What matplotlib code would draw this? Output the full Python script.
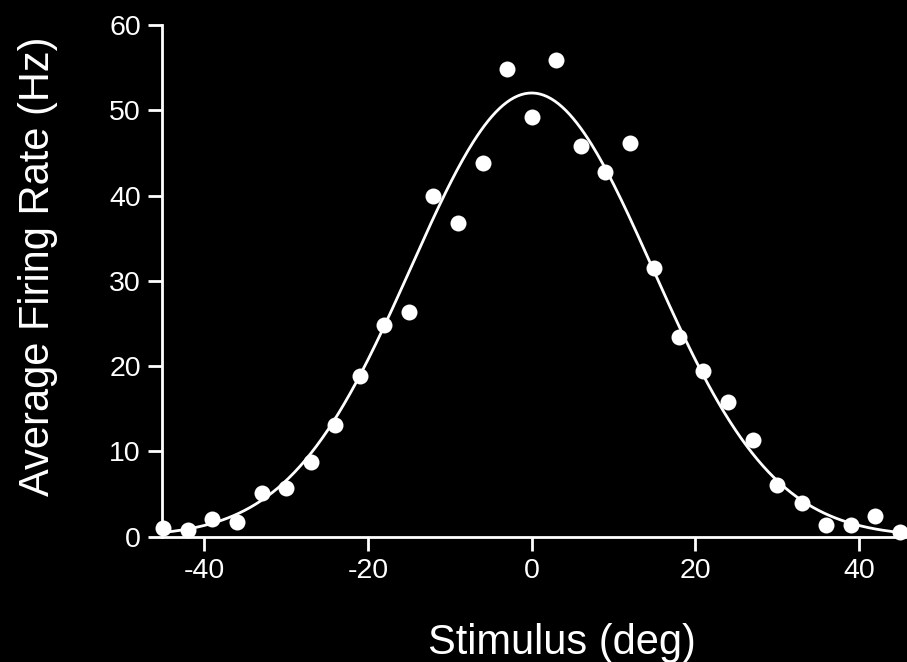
import matplotlib
matplotlib.use("Agg")
import matplotlib.pyplot as plt
import numpy as np

# stimulus direction (deg) and measured firing rates (Hz)
stimulus = [-45, -42, -39, -36, -33, -30, -27, -24, -21, -18, -15, -12, -9, -6, -3,
            0, 3, 6, 9, 12, 15, 18, 21, 24, 27, 30, 33, 36, 39, 42, 45]
rate = [1.0, 0.8, 2.1, 1.7, 5.1, 5.7, 8.7, 13.1, 18.8, 24.8, 26.4, 39.9, 36.8, 43.8, 54.9,
        49.2, 55.9, 45.8, 42.8, 46.2, 31.5, 23.4, 19.4, 15.8, 11.3, 6.1, 4.0, 1.4, 1.4, 2.4, 0.5]
xticks = [-40, -20, 0, 20, 40]
yticks = [0, 10, 20, 30, 40, 50, 60]

plt.rcParams['font.family'] = ['Liberation Sans', 'DejaVu Sans']
plt.rcParams['axes.unicode_minus'] = False

x = np.array(stimulus, dtype=float)
y = np.array(rate, dtype=float)

# least squares gaussian fit centred on 0 deg (grid over width, amplitude solved directly)
best = None
for sig in np.linspace(8, 25, 341):
    g = np.exp(-x ** 2 / (2 * sig ** 2))
    amp = g.dot(y) / g.dot(g)
    err = np.sum((y - amp * g) ** 2)
    if best is None or err < best[0]:
        best = (err, sig, amp)
_, sig, amp = best
xs = np.linspace(-45, 45, 400)
ys = amp * np.exp(-xs ** 2 / (2 * sig ** 2))

fig = plt.figure(figsize=(9.07, 6.62), dpi=100)
fig.patch.set_facecolor('black')
ax = fig.add_axes([0.1783, 0.1893, 0.822, 0.7729])
ax.set_facecolor('black')

ax.plot(xs, ys, color='white', lw=2, zorder=3, clip_on=False)
ax.plot(x, y, 'o', color='white', markersize=11.5, markeredgewidth=0, zorder=4, clip_on=False)

ax.set_xlim(-45.2, 45.9)
ax.set_ylim(0, 60)
ax.set_xticks(xticks)
ax.set_yticks(yticks)

for s in ['top', 'right']:
    ax.spines[s].set_visible(False)
for s in ['left', 'bottom']:
    ax.spines[s].set_color('white')
    ax.spines[s].set_linewidth(2)

ax.tick_params(colors='white', labelsize=20.5, width=2, length=10, pad=5)

fig.text(562 / 907, 1 - 654 / 662, 'Stimulus (deg)', color='white', fontsize=30,
         ha='center', va='baseline')
fig.text(18 / 907, 1 - 266.5 / 662, 'Average Firing Rate (Hz)', color='white', fontsize=30,
         rotation=90, ha='left', va='center')

fig.savefig('out.png', dpi=100, facecolor='black')
